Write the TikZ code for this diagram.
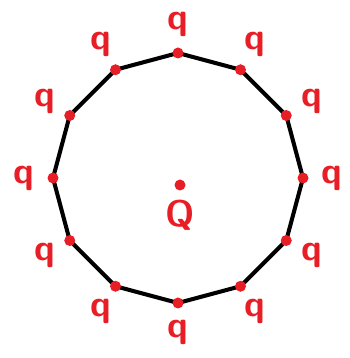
\documentclass[tikz,border=0pt]{standalone}
\usepackage{tikz}
\usetikzlibrary{positioning,calc}
\definecolor{inkred}{RGB}{232,30,38}

\begin{document}
\begin{tikzpicture}[
    side/.style={line width=2.3pt, black, line join=round},
    charge/.style={circle, fill=inkred, draw=none, inner sep=0pt, minimum size=0.22cm},
    qlabel/.style={text=inkred, inner sep=0pt, text height=10pt, text depth=4pt,
        font=\fontsize{21}{23}\selectfont\sffamily\bfseries}
]
    \useasboundingbox (0,0) rectangle (6.98,7.16);
    \coordinate (O) at (3.56,3.6);

    % vertices of the twelve-sided polygon
    \foreach \i in {0,...,11}
        \coordinate (v\i) at ($(O)+(90-30*\i:2.5)$);

    \draw[side] (v0) -- (v1) -- (v2) -- (v3) -- (v4) -- (v5) -- (v6)
        -- (v7) -- (v8) -- (v9) -- (v10) -- (v11) -- cycle;

    % charges on the vertices
    \foreach \i in {0,...,11} {
        \node[charge] (c\i) at (v\i) {};
        \node[qlabel] (q\i) at ($(O)+(90-30*\i:3.08)$) {q};
    }

    % central charge
    \node[charge] (cQ) at (3.6,3.46) {};
    \node[qlabel, text height=15pt, text depth=0pt, below=0.18cm of cQ] (Q) {Q};
\end{tikzpicture}
\end{document}
